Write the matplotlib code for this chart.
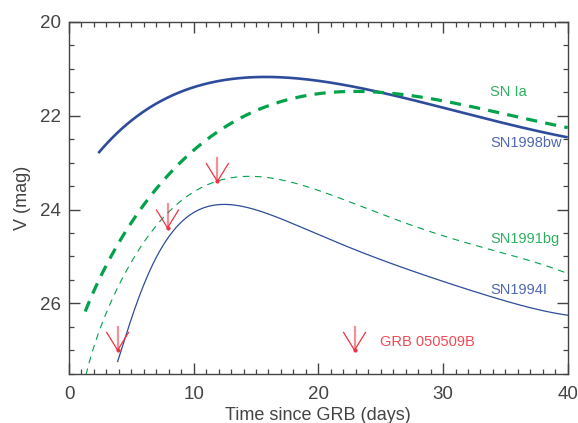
import matplotlib
matplotlib.use("Agg")
import matplotlib.pyplot as plt
import numpy as np
from matplotlib.ticker import MultipleLocator

plt.rcParams["font.family"] = ["Liberation Sans", "DejaVu Sans"]

# light curves (days since GRB, V mag)
sn98bw_t = [2.35, 4.1, 6.8, 9.4, 12.1, 15.9, 18.5, 21.2, 23.9, 26.5, 30.3, 35.6, 40.0]
sn98bw_v = [22.80, 22.30, 21.77, 21.45, 21.27, 21.15, 21.20, 21.32, 21.44, 21.58, 21.86, 22.20, 22.46]

snia_t = [1.3, 2.75, 4.1, 5.4, 7.3, 9.4, 12.1, 15.9, 18.5, 21.2, 23.9, 26.3, 30.3, 35.6, 40.0]
snia_v = [26.16, 25.36, 24.65, 24.08, 23.46, 22.87, 22.34, 21.80, 21.61, 21.50, 21.46, 21.49, 21.73, 22.02, 22.24]

sn91bg_t = [1.36, 2.75, 4.1, 5.4, 6.8, 8.1, 9.4, 11.8, 14.5, 17.2, 21.2, 24.9, 30.3, 35.6, 40.0]
sn91bg_v = [27.53, 26.35, 25.57, 24.93, 24.43, 24.02, 23.72, 23.40, 23.28, 23.37, 23.76, 24.04, 24.58, 25.00, 25.36]

sn94i_t = [3.9, 4.63, 5.43, 6.23, 7.03, 8.1, 9.44, 10.77, 12.8, 15.85, 18.5, 21.2, 24.9, 30.3, 35.6, 40.0]
sn94i_v = [27.24, 26.64, 26.00, 25.43, 24.97, 24.58, 24.22, 23.97, 23.83, 24.04, 24.43, 24.70, 25.00, 25.57, 26.00, 26.25]

# upper limits of GRB 050509B
lim_t = [3.9, 7.9, 11.9, 22.9]
lim_v = [27.0, 24.39, 23.40, 27.0]

BLUE = "#2f4c9c"
GREEN = "#00a24a"
RED = "#ee3344"
TXT = "#444444"


def smooth(t, v, deg=6, n=400):
    # least squares polynomial in sqrt(t) -> smooth light curve
    st = np.sqrt(np.asarray(t, float))
    coef = np.polyfit(st, v, deg)
    tt = np.linspace(t[0], t[-1], n)
    return tt, np.polyval(coef, np.sqrt(tt))


fig = plt.figure(figsize=(5.78, 4.23), dpi=100)
ax = fig.add_axes([0.1194, 0.1166, 0.8628, 0.8314])

t, v = smooth(sn98bw_t, sn98bw_v, deg=4)
ax.plot(t, v, color=BLUE, lw=1.9, solid_capstyle="butt")
t, v = smooth(snia_t, snia_v, deg=5)
ax.plot(t, v, color=GREEN, lw=2.3, dashes=(3.5, 2.6))
t, v = smooth(sn91bg_t, sn91bg_v)
ax.plot(t, v, color=GREEN, lw=0.8, dashes=(6, 5))
t, v = smooth(sn94i_t, sn94i_v)
ax.plot(t, v, color=BLUE, lw=0.9)

for x, y in zip(lim_t, lim_v):
    ax.plot([x, x], [y, y - 0.5], color=RED, lw=1.6, alpha=0.55)
    ax.plot([x - 0.88, x, x + 0.88], [y - 0.38, y, y - 0.38], color=RED, lw=0.9)
    ax.plot(x, y, "o", color=RED, ms=2)

ax.text(33.8, 21.49, "SN Ia", color="#2eb062", fontsize=10.5, va="center")
ax.text(33.8, 22.58, "SN1998bw", color="#5068b4", fontsize=10.5, va="center")
ax.text(33.8, 24.62, "SN1991bg", color="#2eb062", fontsize=10.5, va="center")
ax.text(33.8, 25.71, "SN1994I", color="#5068b4", fontsize=10.5, va="center")
ax.text(24.95, 26.82, "GRB 050509B", color="#f04a55", fontsize=10.5, va="center")

ax.set_xlim(0, 40)
ax.set_ylim(27.5, 20)
ax.xaxis.set_major_locator(MultipleLocator(10))
ax.xaxis.set_minor_locator(MultipleLocator(1))
ax.yaxis.set_major_locator(MultipleLocator(2))
ax.yaxis.set_minor_locator(MultipleLocator(0.5))
ax.tick_params(which="both", direction="in", top=True, right=True,
               color="#444444", labelcolor=TXT, labelsize=13.5)
ax.tick_params(which="major", length=8, width=1.0, pad=6)
ax.tick_params(axis="x", which="major", pad=9)
ax.tick_params(which="minor", length=3.5, width=0.9)
for s in ax.spines.values():
    s.set_color("#444444")
    s.set_linewidth(1.0)

ax.set_xlabel("Time since GRB (days)", fontsize=13, color=TXT, labelpad=3)
ax.set_ylabel("V (mag)", fontsize=13, color=TXT, labelpad=6)

fig.savefig("out.png", dpi=100)
